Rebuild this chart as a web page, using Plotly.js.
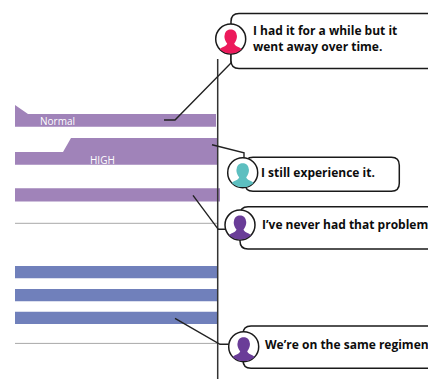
<!DOCTYPE html>
<html><head><meta charset="utf-8">
<script src="https://cdn.plot.ly/plotly-3.0.1.min.js"></script>
<style>html,body{margin:0;padding:0;background:#fff;overflow:hidden}#c{width:428px;height:379px}</style>
</head><body><div id="c"></div><script>
// Band outlines
const normalX=[15,28,216,216,15], normalY=[105,114,114,126.8,126.8];
const highX=[15,63,71,217,217,15], highY=[152,152,138,138,164.8,164.8];
const thirdX=[15,220,220,15], thirdY=[188.3,188.3,201.4,201.4];
const blue1X=[15,218,218,15], blue1Y=[266,266,278.3,278.3];
const blue2X=[15,218,218,15], blue2Y=[289,289,301.2,301.2];
const blue3X=[15,218,218,15], blue3Y=[311.7,311.7,324,324];
const rule1X=[15,217], rule1Y=[223.3,223.3];
const rule2X=[15,217], rule2Y=[343.4,343.4];
const axisX=[217.7,217.7], axisY=[59,379];
// Leader lines
const lead1X=[164,175,231,231], lead1Y=[120,120,63,54];
const lead2X=[212,244,244], lead2Y=[144.7,152.7,158];
const lead3X=[193,218.3,226], lead3Y=[195.3,229.3,229.3];
const lead4X=[175,220,229], lead4Y=[318.3,344.3,344.3];
// Callouts
const quotes=["I had it for a while but it<br>went away over time.","I still experience it.","I’ve never had that problem","We’re on the same regimen"];
const quoteX=[250.5,259,259.5,263], quoteY=[38.5,172,224,344.5];
const avatarX=[230.7,242.7,240,243.7], avatarY=[39,172.7,225,346.7];
const avatarColors=["#ec1a5b","#5dbfc0","#6a3d98","#6a3d98"];
const bubbleL=[231,245,240,243], bubbleT=[13.5,157.3,206.7,326], bubbleB=[68.5,191.3,249,368.3], bubbleR=[445,399.3,445,445];
const PURPLE="#a083b9", BLUE="#7080bb", INK="#222222", RULE="#a8a8a8";

const band=(x,y,c)=>({x,y,mode:"lines",fill:"toself",fillcolor:c,line:{width:0,color:c},hoverinfo:"skip",showlegend:false});
const line=(x,y,c,w)=>({x,y,mode:"lines",line:{width:w,color:c},hoverinfo:"skip",showlegend:false});
const traces=[
 band(normalX,normalY,PURPLE),band(highX,highY,PURPLE),band(thirdX,thirdY,PURPLE),
 band(blue1X,blue1Y,BLUE),band(blue2X,blue2Y,BLUE),band(blue3X,blue3Y,BLUE),
 line(rule1X,rule1Y,RULE,1),line(rule2X,rule2Y,RULE,1),
 line(axisX,axisY,"#333333",1.5),
 line(lead1X,lead1Y,INK,1.4),line(lead2X,lead2Y,INK,1.4),line(lead3X,lead3Y,INK,1.4),line(lead4X,lead4Y,INK,1.4)
];
const shapes=[];
bubbleL.forEach((l,i)=>{
 const t=bubbleT[i],b=bubbleB[i],r=bubbleR[i],k=8;
 shapes.push({type:"path",layer:"above",fillcolor:"#ffffff",line:{color:"#1a1a1a",width:1.5},
  path:`M${l},${t+k} Q${l},${t} ${l+k},${t} L${r-k},${t} Q${r},${t} ${r},${t+k} L${r},${b-k} Q${r},${b} ${r-k},${b} L${l+k},${b} Q${l},${b} ${l},${b-k} Z`});
});
avatarX.forEach((cx,i)=>{
 const cy=avatarY[i],R=15,c=avatarColors[i];
 shapes.push({type:"circle",layer:"above",xref:"x",yref:"y",x0:cx-R,x1:cx+R,y0:cy-R,y1:cy+R,fillcolor:"#ffffff",line:{color:"#1a1a1a",width:1.5}});
 const p=(dx,dy)=>`${cx+dx},${cy+dy}`;
 const s=`M${p(-11,10.2)} C${p(-8,7.5)} ${p(-4.5,7.5)} ${p(-3.5,4.5)} C${p(-6.5,1)} ${p(-6.5,-3)} ${p(-6,-4)} C${p(-5.5,-8)} ${p(-3,-9.5)} ${p(0,-9.5)} C${p(3,-9.5)} ${p(5.5,-8)} ${p(6,-4)} C${p(6.5,-3)} ${p(6.5,1)} ${p(3.5,4.5)} C${p(4.5,7.5)} ${p(8,7.5)} ${p(11,10.2)} C${p(8,13)} ${p(4,14.4)} ${p(0,14.4)} C${p(-4,14.4)} ${p(-8,13)} ${p(-11,10.2)} Z`;
 shapes.push({type:"path",layer:"above",path:s,fillcolor:c,line:{width:0}});
});
const ann=quotes.map((q,i)=>({x:quoteX[i],y:quoteY[i],xref:"x",yref:"y",text:"<b>"+q+"</b>",xanchor:"left",yanchor:"middle",align:"left",showarrow:false,
 font:{family:"Open Sans, sans-serif",size:12,color:"#0d0d0d"}}));
ann.push({x:57,y:121,text:"Normal",showarrow:false,font:{family:"Open Sans, sans-serif",size:10,color:"#ffffff"}});
ann.push({x:102,y:160.3,text:"HIGH",showarrow:false,font:{family:"Open Sans, sans-serif",size:10,color:"#ffffff"}});
Plotly.newPlot("c",traces,{width:428,height:379,margin:{l:0,r:0,t:0,b:0},paper_bgcolor:"#fff",plot_bgcolor:"#fff",showlegend:false,
 xaxis:{range:[0,428],visible:false,fixedrange:true},yaxis:{range:[379,0],visible:false,fixedrange:true},shapes,annotations:ann},{displayModeBar:false,staticPlot:true});
</script></body></html>
